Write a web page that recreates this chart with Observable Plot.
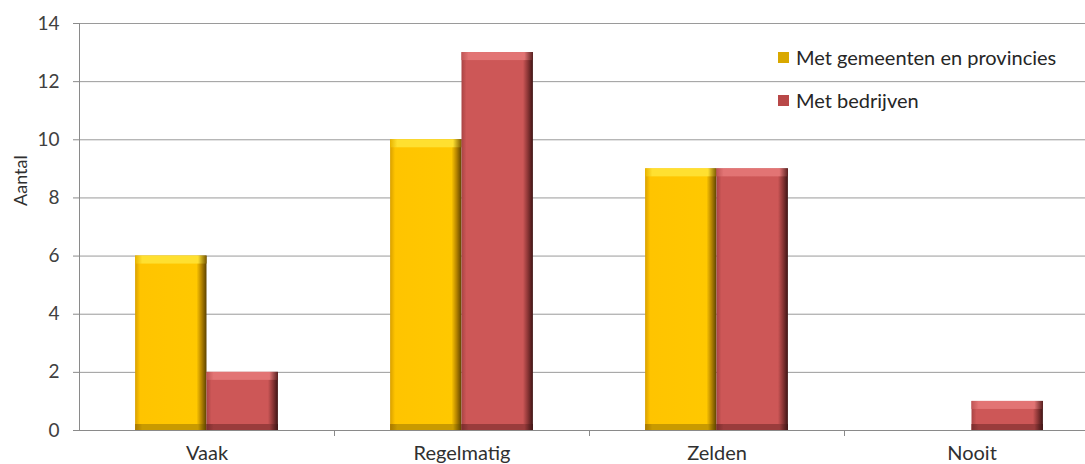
<!DOCTYPE html>
<html>
<head>
<meta charset="utf-8">
<script src="https://cdn.jsdelivr.net/npm/d3@7"></script>
<script src="https://cdn.jsdelivr.net/npm/@observablehq/plot@0.6"></script>
<style>
  html, body { margin: 0; padding: 0; background: #fff; overflow: hidden; }
  #wrap { position: relative; width: 1085px; height: 464px; overflow: hidden; }
  #wrap svg { max-width: none !important; }
  #legend { position: absolute; left: 778px; top: 45px; font-family: Lato, sans-serif; font-size: 20px; color: #262626; }
  #legend .item { display: flex; align-items: center; height: 24px; margin-bottom: 19px; }
  #legend .sw { width: 11px; height: 11px; margin-right: 7px; }
</style>
</head>
<body>
<div id="wrap"></div>
<script>
const categories = ["Vaak", "Regelmatig", "Zelden", "Nooit"];
const seriesNames = ["Met gemeenten en provincies", "Met bedrijven"];
const gemeenten = [6, 10, 9, 0];
const bedrijven = [2, 13, 9, 1];
const yTicks = [0, 2, 4, 6, 8, 10, 12, 14];

const seriesValues = [gemeenten, bedrijven];
const rows = [];
seriesValues.forEach((vals, s) => vals.forEach((v, i) => rows.push({cat: categories[i], i, s, series: seriesNames[s], value: v})));

const barW = 0.28;
const x1 = d => d.i - barW + d.s * barW;
const x2 = d => d.i + d.s * barW;

const palettes = [
  {base: "url(#gY)", top: "url(#gYt)", bot: "url(#gYb)", sw: "#d9a800"},
  {base: "url(#gR)", top: "url(#gRt)", bot: "url(#gRb)", sw: "#b84848"}
];

const marks = [
  Plot.gridY(yTicks, {stroke: "#9a9a9a", strokeOpacity: 1, strokeWidth: 1}),
  Plot.axisY({ticks: yTicks, tickSize: 6, tickPadding: 14, label: null, fontSize: 19, stroke: "#8a8a8a", color: "#404040"}),
  Plot.axisX({ticks: d3.range(categories.length), tickFormat: i => categories[i], tickSize: 0, tickPadding: 15, fontSize: 20, label: null, color: "#303030"}),
  Plot.axisX({ticks: d3.range(categories.length - 1).map(i => i + 0.5), tickFormat: () => "", tickSize: 6, stroke: "#8a8a8a", label: null})
];
seriesValues.forEach((_, s) => {
  const data = rows.filter(d => d.s === s && d.value > 0);
  const p = palettes[s];
  marks.push(Plot.rectY(data, {x1, x2, y1: 0, y2: "value", fill: p.base}));
  marks.push(Plot.rectY(data, {x1, x2, y1: "value", y2: "value", insetBottom: -8, fill: p.top}));
  marks.push(Plot.rectY(data, {x1, x2, y1: 0, y2: 0, insetTop: -6, fill: p.bot}));
});
marks.push(Plot.frame({anchor: "left", stroke: "#8a8a8a"}));
marks.push(Plot.ruleY([0], {stroke: "#8a8a8a"}));
marks.push(Plot.text(["Aantal"], {frameAnchor: "left", rotate: -90, dx: -58, dy: -21, fontSize: 18, fill: "#303030", fontFamily: "Lato, sans-serif"}));

const chart = Plot.plot({
  width: 1099,
  height: 464,
  marginLeft: 79,
  marginRight: 0,
  marginTop: 23,
  marginBottom: 34,
  style: {fontFamily: "Lato, sans-serif", background: "#fff", overflow: "visible", maxWidth: "none"},
  x: {type: "linear", domain: [-0.5, categories.length - 0.5]},
  y: {domain: [0, 14]},
  marks
});

const defs = `
<defs>
  <linearGradient id="gY" x1="0" x2="1" y1="0" y2="0">
    <stop offset="0" stop-color="#d9a000"/>
    <stop offset="0.07" stop-color="#ffc400"/>
    <stop offset="0.86" stop-color="#ffc800"/>
    <stop offset="0.93" stop-color="#b58400"/>
    <stop offset="1" stop-color="#5c4200"/>
  </linearGradient>
  <linearGradient id="gYt" x1="0" x2="1" y1="0" y2="0">
    <stop offset="0" stop-color="#e8b400"/>
    <stop offset="0.1" stop-color="#ffe030"/>
    <stop offset="0.88" stop-color="#ffe030"/>
    <stop offset="1" stop-color="#7a5a00"/>
  </linearGradient>
  <linearGradient id="gYb" x1="0" x2="1" y1="0" y2="0">
    <stop offset="0" stop-color="#a87800"/>
    <stop offset="0.1" stop-color="#c89a00"/>
    <stop offset="0.88" stop-color="#c89a00"/>
    <stop offset="1" stop-color="#5c4200"/>
  </linearGradient>
  <linearGradient id="gR" x1="0" x2="1" y1="0" y2="0">
    <stop offset="0" stop-color="#a94444"/>
    <stop offset="0.07" stop-color="#cd5757"/>
    <stop offset="0.86" stop-color="#cd5757"/>
    <stop offset="0.93" stop-color="#8a3535"/>
    <stop offset="1" stop-color="#3e1414"/>
  </linearGradient>
  <linearGradient id="gRt" x1="0" x2="1" y1="0" y2="0">
    <stop offset="0" stop-color="#c05555"/>
    <stop offset="0.1" stop-color="#e27474"/>
    <stop offset="0.88" stop-color="#e27474"/>
    <stop offset="1" stop-color="#5a2020"/>
  </linearGradient>
  <linearGradient id="gRb" x1="0" x2="1" y1="0" y2="0">
    <stop offset="0" stop-color="#7a2e2e"/>
    <stop offset="0.1" stop-color="#9a3c3c"/>
    <stop offset="0.88" stop-color="#9a3c3c"/>
    <stop offset="1" stop-color="#3e1414"/>
  </linearGradient>
</defs>`;
chart.insertAdjacentHTML("afterbegin", defs);

const wrap = document.getElementById("wrap");
wrap.appendChild(chart);

const legend = document.createElement("div");
legend.id = "legend";
seriesNames.forEach((name, s) => {
  const item = document.createElement("div");
  item.className = "item";
  const sw = document.createElement("span");
  sw.className = "sw";
  sw.style.background = palettes[s].sw;
  const t = document.createElement("span");
  t.textContent = name;
  item.appendChild(sw);
  item.appendChild(t);
  legend.appendChild(item);
});
wrap.appendChild(legend);
</script>
</body>
</html>
